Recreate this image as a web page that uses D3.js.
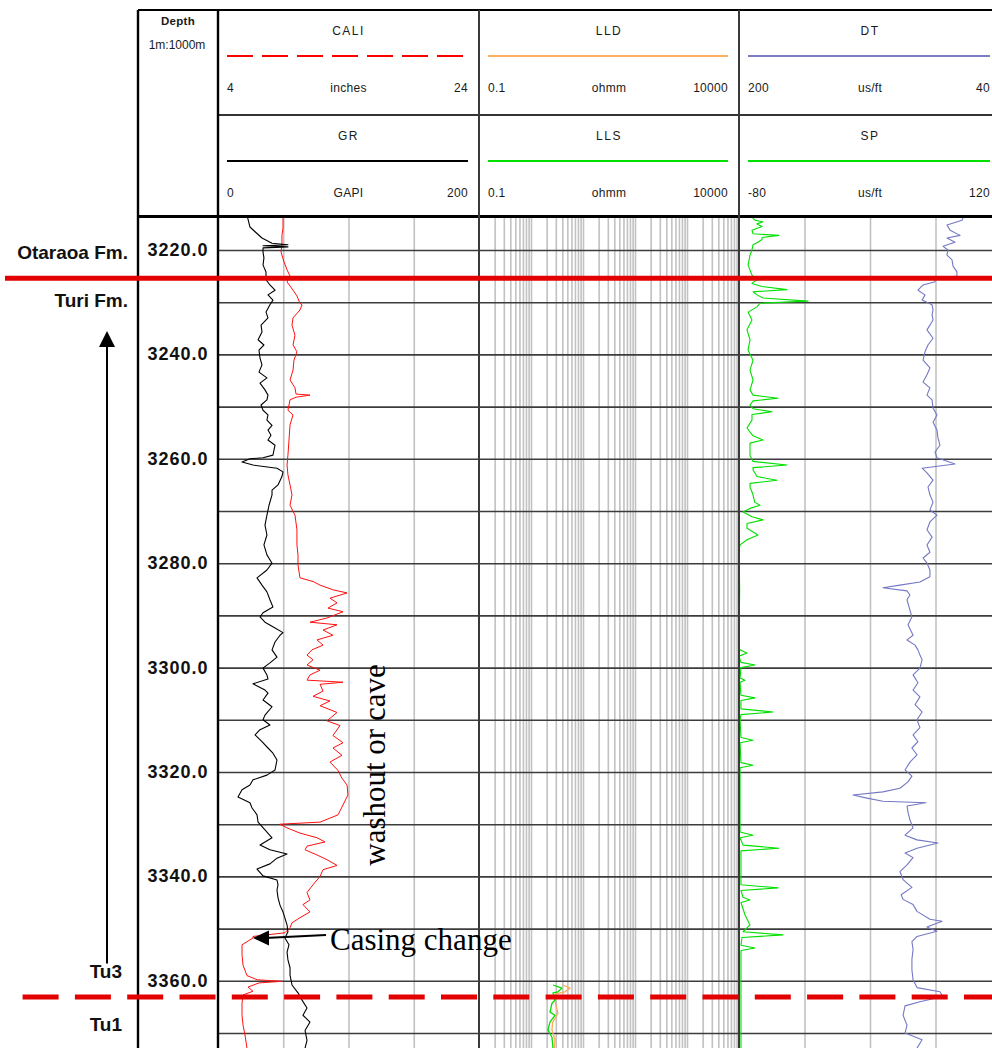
<!DOCTYPE html>
<html><head><meta charset="utf-8">
<script src="https://cdn.jsdelivr.net/npm/d3@7"></script>
<style>body{margin:0;background:#fff;overflow:hidden} svg{display:block}</style>
</head><body>
<script>
// ---------------- DATA ----------------
const depthTicks = [3220, 3240, 3260, 3280, 3300, 3320, 3340, 3360];
const gridDepths = [3220, 3230, 3240, 3250, 3260, 3270, 3280, 3290, 3300, 3310, 3320, 3330, 3340, 3350, 3360, 3370];

const curveNames = ["CALI", "LLD", "DT", "GR", "LLS", "SP"];
const curveUnits = ["inches", "ohmm", "us/ft", "GAPI", "ohmm", "us/ft"];
const curveMins = ["4", "0.1", "200", "0", "0.1", "-80"];
const curveMaxs = ["24", "10000", "40", "200", "10000", "120"];

const formationTops = [
  { depth: 3225.4, above: "Otaraoa Fm.", below: "Turi Fm.", kind: "solid" },
  { depth: 3363.1, above: "Tu3", below: "Tu1", kind: "dashed" }
];

// [depth m, GAPI]
const grData = [[3213.7,22.6],[3215.6,24.5],[3216.5,28.4],[3217.7,33.7],[3218.7,41.4],[3219.0,53.6],[3219.2,34.5],[3219.4,53.6],[3219.6,34.5],[3220.4,34.5],[3221.5,35.2],[3222.9,34.5],[3224.2,36.8],[3225.7,36.8],[3226.7,39.8],[3227.7,43.7],[3228.6,38.3],[3229.6,42.1],[3230.5,39.8],[3231.9,36.8],[3233.0,38.3],[3234.4,33.0],[3235.7,33.7],[3237.2,30.7],[3238.2,35.2],[3239.2,31.4],[3240.7,32.2],[3242.0,33.7],[3243.4,31.4],[3244.5,37.5],[3245.5,32.2],[3246.8,36.0],[3247.8,38.3],[3248.7,37.5],[3249.7,33.0],[3250.7,34.5],[3251.6,38.3],[3252.6,37.5],[3253.6,41.4],[3254.5,38.3],[3255.5,40.6],[3256.4,38.3],[3257.4,43.7],[3259.3,42.1],[3259.8,34.5],[3260.0,24.5],[3260.6,18.4],[3261.2,26.8],[3261.8,45.2],[3262.5,49.8],[3263.4,49.0],[3265.0,46.0],[3266.0,41.4],[3266.9,41.4],[3268.9,39.1],[3270.8,37.5],[3272.7,36.0],[3274.6,37.5],[3276.5,35.2],[3278.4,37.5],[3280.0,41.4],[3281.3,37.5],[3282.8,29.9],[3284.2,33.7],[3285.5,37.5],[3287.0,39.8],[3288.4,42.1],[3289.5,34.5],[3290.3,32.2],[3291.3,36.0],[3292.4,43.7],[3293.3,49.8],[3293.8,47.5],[3295.1,43.7],[3296.6,41.4],[3298.0,45.2],[3299.1,39.8],[3300.1,34.5],[3301.4,37.5],[3302.2,38.3],[3303.1,26.8],[3304.3,36.0],[3304.9,38.3],[3306.2,34.5],[3307.5,41.4],[3309.1,36.0],[3310.0,34.5],[3311.0,39.8],[3311.9,32.2],[3312.9,28.4],[3314.2,33.7],[3315.4,38.3],[3316.4,42.1],[3317.7,45.2],[3319.6,43.7],[3320.6,37.5],[3321.5,26.8],[3322.5,24.5],[3323.4,18.4],[3324.8,15.3],[3325.9,24.5],[3326.9,26.1],[3328.2,29.9],[3329.6,30.7],[3331.1,36.0],[3332.6,41.4],[3334.0,32.2],[3334.9,39.8],[3335.7,52.9],[3336.5,45.2],[3337.6,39.8],[3338.6,29.9],[3339.9,34.5],[3340.7,45.2],[3341.6,46.0],[3342.6,45.2],[3344.1,46.0],[3345.5,47.5],[3346.8,49.8],[3348.0,51.3],[3349.3,52.9],[3350.6,53.6],[3351.8,51.3],[3353.1,54.4],[3354.5,52.9],[3356.0,53.6],[3357.5,55.2],[3358.9,55.2],[3360.8,56.7],[3362.3,61.3],[3363.7,64.4],[3365.2,68.2],[3366.6,65.1],[3367.9,70.5],[3369.5,66.7],[3371.4,68.2],[3372.9,66.7]];

// [depth m, inches]
const caliData = [[3213.7,8.98],[3215.8,8.98],[3217.2,8.90],[3219.0,8.90],[3220.4,8.83],[3222.3,9.06],[3223.8,9.29],[3225.0,9.52],[3226.1,9.29],[3227.7,9.75],[3228.8,10.05],[3230.2,10.28],[3230.5,10.44],[3231.5,10.28],[3233.0,9.75],[3234.4,9.67],[3236.3,9.90],[3238.2,9.75],[3239.5,10.05],[3241.1,9.82],[3243.0,9.75],[3244.9,9.52],[3246.4,9.90],[3247.6,9.98],[3247.8,11.05],[3248.2,9.98],[3248.7,9.52],[3250.7,9.36],[3251.6,9.75],[3253.5,9.52],[3256.4,9.44],[3259.3,9.36],[3261.2,9.29],[3263.1,9.36],[3265.0,9.52],[3266.9,9.67],[3268.9,9.52],[3270.8,9.90],[3273.6,10.05],[3276.5,10.05],[3278.4,10.13],[3280.3,10.13],[3282.8,10.28],[3283.5,11.28],[3284.2,11.82],[3285.1,12.81],[3285.7,13.89],[3286.7,12.58],[3287.6,13.12],[3288.6,12.43],[3289.3,13.58],[3290.5,12.35],[3291.3,11.05],[3291.8,13.12],[3292.8,12.05],[3293.8,12.81],[3294.7,11.59],[3295.7,12.05],[3296.6,11.20],[3297.6,10.82],[3298.5,11.28],[3299.5,10.82],[3300.5,11.82],[3301.4,11.05],[3302.4,10.82],[3302.8,13.58],[3303.2,11.82],[3304.5,12.05],[3305.5,11.28],[3306.4,12.58],[3307.3,11.82],[3308.6,13.12],[3310.2,12.35],[3311.1,13.35],[3313.0,12.81],[3314.4,13.58],[3315.4,12.81],[3316.8,13.50],[3318.1,12.58],[3319.7,13.20],[3321.2,13.50],[3322.5,13.89],[3324.4,13.96],[3326.3,13.58],[3328.2,13.20],[3329.6,11.82],[3330.0,8.75],[3330.7,9.29],[3331.7,10.28],[3332.6,11.59],[3333.4,12.20],[3334.2,10.82],[3334.9,10.67],[3335.9,11.59],[3336.8,12.35],[3337.9,13.12],[3338.7,12.05],[3340.0,11.82],[3341.6,11.28],[3343.1,10.82],[3344.5,11.05],[3345.4,10.51],[3346.8,11.05],[3347.9,10.28],[3348.9,9.67],[3349.8,9.52],[3350.8,9.13],[3351.5,6.68],[3351.8,6.68],[3353.1,5.84],[3355.0,5.84],[3357.0,5.92],[3359.0,6.22],[3359.8,7.00],[3360.1,8.90],[3360.4,7.15],[3361.2,6.30],[3362.0,6.68],[3362.7,5.92],[3364.3,5.84],[3366.6,5.84],[3368.5,5.92],[3370.4,6.07],[3372.9,6.22]];

// [depth m, us/ft]
const dtData = [[3213.7,63.0],[3214.3,63.8],[3215.2,73.0],[3216.2,71.1],[3217.2,65.0],[3217.7,73.0],[3218.5,68.1],[3219.3,75.4],[3220.0,72.4],[3221.0,73.0],[3221.9,69.9],[3223.1,69.3],[3224.2,66.9],[3225.0,66.9],[3225.6,80.3],[3226.1,80.3],[3226.7,87.6],[3227.7,90.7],[3228.6,86.4],[3229.6,88.2],[3230.5,82.1],[3231.5,81.5],[3232.4,82.1],[3233.4,81.5],[3234.4,83.4],[3235.3,85.2],[3236.9,81.5],[3238.2,84.6],[3239.5,86.4],[3241.1,87.6],[3242.6,83.4],[3243.9,85.2],[3245.3,87.6],[3246.4,83.4],[3247.8,85.2],[3248.7,82.1],[3250.3,81.5],[3251.6,79.1],[3253.0,81.5],[3254.5,79.1],[3256.0,78.5],[3257.4,77.3],[3258.7,80.3],[3259.8,79.1],[3261.0,68.1],[3261.8,88.2],[3262.7,85.2],[3264.1,81.5],[3265.4,84.6],[3266.9,83.4],[3268.3,81.5],[3269.8,83.4],[3270.8,79.1],[3272.1,83.4],[3273.6,85.2],[3275.0,82.1],[3276.5,85.2],[3277.9,83.4],[3279.0,87.6],[3280.0,85.2],[3281.3,83.4],[3282.6,83.4],[3283.6,89.5],[3284.2,101.7],[3284.7,112.1],[3285.3,97.4],[3286.1,95.6],[3287.0,97.4],[3289.0,95.6],[3290.3,94.4],[3291.8,96.8],[3293.8,93.7],[3294.7,97.4],[3295.7,92.5],[3296.6,90.7],[3297.6,89.5],[3298.5,88.2],[3300.1,89.5],[3301.4,93.7],[3302.9,90.7],[3304.3,93.7],[3305.6,89.5],[3307.1,92.5],[3308.5,88.2],[3310.0,91.3],[3311.5,89.5],[3312.9,93.7],[3314.2,90.7],[3315.4,94.4],[3316.7,91.3],[3318.1,95.6],[3319.6,98.6],[3320.8,94.4],[3321.9,96.8],[3323.1,101.7],[3323.8,112.1],[3324.4,130.4],[3325.0,121.8],[3325.6,112.1],[3325.9,85.8],[3326.5,97.4],[3327.7,96.8],[3329.2,95.6],[3330.7,93.7],[3332.1,98.6],[3333.0,91.3],[3333.6,78.5],[3334.6,91.3],[3335.5,98.6],[3336.4,93.7],[3337.8,97.4],[3339.1,101.7],[3340.6,99.8],[3342.1,94.4],[3343.5,101.0],[3344.4,99.8],[3345.4,93.7],[3346.7,91.3],[3348.2,83.4],[3348.6,76.0],[3349.7,85.2],[3350.5,79.1],[3351.5,91.3],[3352.5,94.4],[3354.0,93.7],[3355.9,94.4],[3357.9,94.4],[3359.8,93.7],[3361.3,91.3],[3362.1,77.3],[3363.0,75.4],[3364.0,89.5],[3364.8,98.6],[3366.6,99.8],[3368.5,97.4],[3370.0,98.6],[3371.3,88.2],[3372.9,91.3]];

// [depth m, SP]
const spData = [[3213.7,-70.1],[3214.3,-67.8],[3214.6,-61.7],[3215.0,-66.3],[3215.5,-62.4],[3216.2,-70.1],[3216.9,-69.3],[3217.2,-49.5],[3217.6,-62.4],[3218.0,-62.4],[3218.6,-66.3],[3219.0,-69.3],[3220.0,-70.1],[3221.0,-71.6],[3222.9,-73.1],[3224.8,-70.1],[3225.7,-66.3],[3226.4,-70.1],[3227.0,-62.4],[3227.6,-43.4],[3228.0,-69.3],[3228.6,-66.3],[3229.2,-61.7],[3229.8,-27.3],[3230.2,-64.0],[3230.9,-66.3],[3231.9,-73.1],[3233.4,-70.1],[3235.3,-73.9],[3237.2,-71.6],[3239.2,-73.1],[3241.1,-69.3],[3243.0,-71.6],[3244.9,-69.3],[3246.8,-71.6],[3247.8,-69.3],[3248.4,-50.2],[3248.9,-69.3],[3249.7,-71.6],[3250.4,-69.3],[3251.0,-54.8],[3251.5,-70.1],[3252.6,-70.1],[3254.1,-73.9],[3255.6,-69.3],[3256.4,-61.7],[3257.0,-71.6],[3257.9,-71.6],[3259.3,-71.6],[3260.5,-69.3],[3261.2,-43.4],[3261.7,-69.3],[3262.1,-69.3],[3263.4,-66.3],[3264.1,-51.0],[3264.7,-71.6],[3265.4,-71.6],[3266.9,-69.3],[3268.3,-68.0],[3268.9,-64.0],[3269.5,-71.6],[3270.2,-76.9],[3271.1,-70.1],[3271.7,-61.7],[3272.4,-73.9],[3273.3,-73.9],[3274.6,-65.5],[3275.5,-73.9],[3276.5,-79.2],[3277.5,-80],[3285.0,-79.5],[3296.5,-80],[3297.2,-73.9],[3297.8,-80],[3299.0,-78.5],[3299.5,-67.8],[3300.0,-78.5],[3302.0,-79.2],[3302.4,-75.4],[3302.8,-79.2],[3305.3,-78.5],[3305.8,-67.8],[3306.3,-78.5],[3307.9,-78.5],[3308.5,-54.0],[3309.0,-78.5],[3310.0,-79.2],[3313.4,-78.5],[3313.9,-69.3],[3314.4,-79.2],[3318.2,-78.5],[3318.7,-69.3],[3319.2,-79.2],[3331.5,-79.2],[3332.1,-69.3],[3332.6,-79.2],[3334.0,-76.9],[3334.6,-49.5],[3335.1,-78.5],[3337.8,-78.5],[3341.6,-78.5],[3342.2,-50.2],[3342.7,-78.5],[3344.0,-76.9],[3344.5,-71.6],[3345.0,-78.5],[3347.4,-75.4],[3349.3,-71.6],[3350.6,-76.9],[3351.2,-46.4],[3351.7,-77.7],[3353.2,-78.5],[3353.7,-67.8],[3354.2,-78.5],[3356.0,-78.5],[3372.9,-78.5]];

// [depth m, ohmm]
const llsData = [[3360.8,2.65],[3361.4,3.94],[3362.1,3.30],[3362.3,2.65],[3363.7,2.89],[3364.3,2.53],[3366.0,2.32],[3366.6,2.89],[3367.9,2.32],[3369.4,2.12],[3370.8,2.53],[3372.9,2.65]];
const lldData = [[3360.8,4.12],[3361.4,5.62],[3362.1,4.51],[3362.5,3.00],[3364.0,2.90],[3366.2,3.30],[3368.0,2.60],[3369.4,2.53],[3371.3,2.89],[3372.9,2.80]];

// ---------------- CHART ----------------
const W = 992, H = 1048;
const FONT = "Arial, 'Liberation Sans', sans-serif";
const svg = d3.select("body").append("svg").attr("width", W).attr("height", H)
  .style("font-family", FONT);

const HEAD_TOP = 10, HEAD_MID = 115, DATA_TOP = 217, DATA_BOT = H;
const depthCol = [138, 218];
const tracks = [[218, 479], [479, 739], [739, 1001]];

const y = d3.scaleLinear().domain([3213.68, 3372.87]).range([DATA_TOP, DATA_BOT]);
const xGR = d3.scaleLinear().domain([0, 200]).range(tracks[0]);
const xCALI = d3.scaleLinear().domain([4, 24]).range(tracks[0]);
const xRes = d3.scaleLog().domain([0.1, 10000]).range(tracks[1]);
const xDT = d3.scaleLinear().domain([200, 40]).range(tracks[2]);
const xSP = d3.scaleLinear().domain([-80, 120]).range(tracks[2]);

// clip paths
const defs = svg.append("defs");
tracks.forEach((t, i) => {
  defs.append("clipPath").attr("id", "clip" + i).append("rect")
    .attr("x", t[0]).attr("y", DATA_TOP).attr("width", t[1] - t[0]).attr("height", DATA_BOT - DATA_TOP);
});

const gridColor = "#c2c2c2";
function vgrid(scale, values, idx) {
  svg.append("g").attr("clip-path", `url(#clip${idx})`)
    .append("g").attr("transform", `translate(0,${DATA_TOP})`)
    .call(d3.axisBottom(scale).tickValues(values).tickSize(DATA_BOT - DATA_TOP).tickFormat(""))
    .call(g => g.select(".domain").remove())
    .call(g => g.selectAll("line").attr("stroke", gridColor).attr("stroke-width", 1.6));
}
// track 1 linear grid
vgrid(xGR, [50, 100, 150], 0);
// track 2 logarithmic grid
const logVals = [];
[-1, 0, 1, 2, 3].forEach(e => { for (let m = 1; m <= 9; m++) { const v = m * Math.pow(10, e); if (v > 0.1) logVals.push(v); } });
vgrid(xRes, logVals, 1);
// track 3 linear grid
vgrid(xDT, [160, 120, 80], 2);

// horizontal depth grid
svg.append("g").attr("transform", `translate(${depthCol[1]},0)`)
  .call(d3.axisRight(y).tickValues(gridDepths).tickSize(W - depthCol[1]).tickFormat(""))
  .call(g => g.select(".domain").remove())
  .call(g => g.selectAll("line").attr("stroke", "#3c3c3c").attr("stroke-width", 1.6));

// curves
const line = (xs, data) => d3.line().x(d => xs(d[1])).y(d => y(d[0]))(data);
function drawCurve(xs, data, color, idx, w) {
  svg.append("path").attr("d", line(xs, data)).attr("fill", "none")
    .attr("stroke", color).attr("stroke-width", w || 1).attr("stroke-linejoin", "round")
    .attr("clip-path", `url(#clip${idx})`);
}
drawCurve(xCALI, caliData, "#ff1010", 0, 1);
drawCurve(xGR, grData, "#000000", 0, 1.1);
drawCurve(xRes, lldData, "#ffaa55", 1, 1.3);
drawCurve(xRes, llsData, "#00dd00", 1, 1.3);
drawCurve(xSP, spData, "#00e000", 2, 1.1);
drawCurve(xDT, dtData, "#7478c4", 2, 1.1);

// borders
const border = (x1, y1, x2, y2, w, c) => svg.append("line").attr("x1", x1).attr("y1", y1).attr("x2", x2).attr("y2", y2)
  .attr("stroke", c || "#000").attr("stroke-width", w);
border(depthCol[0], HEAD_TOP, W, HEAD_TOP, 2);
border(depthCol[1], HEAD_MID, W, HEAD_MID, 2, "#333");
border(depthCol[0], DATA_TOP - 0.5, W, DATA_TOP - 0.5, 3);
border(depthCol[0], HEAD_TOP, depthCol[0], H, 2.4);
border(depthCol[1], HEAD_TOP, depthCol[1], H, 2.4);
border(tracks[1][0], HEAD_TOP, tracks[1][0], H, 2, "#3a3a3a");
border(tracks[2][0], HEAD_TOP, tracks[2][0], H, 2, "#3a3a3a");

// header
const head = svg.append("g").attr("fill", "#1a1a1a").style("font-size", "12px").style("letter-spacing", "0.3px");
head.append("text").attr("x", 178).attr("y", 21).attr("text-anchor", "middle").attr("dominant-baseline", "central")
  .style("font-weight", "bold").style("font-size", "11.5px").text("Depth");
head.append("text").attr("x", 177).attr("y", 45).attr("text-anchor", "middle").attr("dominant-baseline", "central")
  .style("font-size", "12px").style("letter-spacing", "0px").text("1m:1000m");

const legendStyles = [
  { color: "#ff0000", dash: "26,9" }, { color: "#ffb060", dash: null }, { color: "#7a7ec2", dash: null },
  { color: "#000000", dash: null }, { color: "#00e000", dash: null }, { color: "#00e000", dash: null }
];
curveNames.forEach((name, i) => {
  const t = tracks[i % 3], row = Math.floor(i / 3);
  const top = row === 0 ? HEAD_TOP : HEAD_MID;
  const cx = (t[0] + t[1]) / 2;
  head.append("text").attr("x", cx).attr("y", top + 21).attr("text-anchor", "middle").attr("dominant-baseline", "central")
    .style("letter-spacing", "1.5px").text(name);
  const ls = legendStyles[i];
  head.append("line").attr("x1", t[0] + 9).attr("x2", t[1] - 11).attr("y1", top + 46).attr("y2", top + 46)
    .attr("stroke", ls.color).attr("stroke-width", 2).attr("stroke-dasharray", ls.dash);
  head.append("text").attr("x", t[0] + 9).attr("y", top + 78).attr("dominant-baseline", "central").text(curveMins[i]);
  head.append("text").attr("x", cx).attr("y", top + 78).attr("text-anchor", "middle").attr("dominant-baseline", "central").text(curveUnits[i]);
  head.append("text").attr("x", t[1] - 11).attr("y", top + 78).attr("text-anchor", "end").attr("dominant-baseline", "central").text(curveMaxs[i]);
});

// depth labels
svg.append("g").selectAll("text").data(depthTicks).join("text")
  .attr("x", 178).attr("y", d => y(d)).attr("text-anchor", "middle").attr("dominant-baseline", "central")
  .style("font-size", "18px").style("font-weight", "bold").style("letter-spacing", "1px").attr("fill", "#111")
  .text(d => d3.format(".1f")(d));

// formation tops
const fm = svg.append("g");
formationTops.forEach((f, i) => {
  const yy = y(f.depth);
  if (f.kind === "solid") {
    fm.append("line").attr("x1", 5).attr("x2", W).attr("y1", yy).attr("y2", yy)
      .attr("stroke", "#e20000").attr("stroke-width", 5);
  } else {
    fm.append("line").attr("x1", 22.6).attr("x2", W).attr("y1", yy).attr("y2", yy)
      .attr("stroke", "#e20000").attr("stroke-width", 5).attr("stroke-dasharray", "36,16.3");
  }
  const lx = i === 0 ? 128 : 122;
  fm.append("text").attr("x", lx).attr("y", yy - (i === 0 ? 26 : 25)).attr("text-anchor", "end").attr("dominant-baseline", "central")
    .style("font-size", "19px").style("font-weight", "bold").attr("fill", "#111").text(f.above);
  fm.append("text").attr("x", lx).attr("y", yy + (i === 0 ? 22 : 28)).attr("text-anchor", "end").attr("dominant-baseline", "central")
    .style("font-size", "19px").style("font-weight", "bold").attr("fill", "#111").text(f.below);
});

// Tu3 -> Turi arrow (upward)
const arrX = 107;
svg.append("line").attr("x1", arrX).attr("x2", arrX).attr("y1", y(3361.3) - 24).attr("y2", 345)
  .attr("stroke", "#000").attr("stroke-width", 2);
svg.append("path").attr("d", `M${arrX},331 L${arrX - 8},347 L${arrX + 8},347 Z`).attr("fill", "#000");

// annotations
svg.append("text").attr("transform", "translate(385,765) rotate(-90)").attr("text-anchor", "middle")
  .style("font-family", "'Liberation Serif','Times New Roman',serif").style("font-size", "31px").attr("fill", "#000")
  .text("washout or cave");
svg.append("text").attr("x", 330).attr("y", 950)
  .style("font-family", "'Liberation Serif','Times New Roman',serif").style("font-size", "31px").attr("fill", "#000")
  .text("Casing change");
const tipX = xCALI(6.68), tipY = y(3351.8);
svg.append("line").attr("x1", 326).attr("y1", tipY - 3).attr("x2", tipX + 12).attr("y2", tipY)
  .attr("stroke", "#000").attr("stroke-width", 2);
svg.append("path").attr("d", `M${tipX},${tipY} L${tipX + 16},${tipY - 7.5} L${tipX + 16},${tipY + 7.5} Z`).attr("fill", "#000");
</script>
</body></html>
